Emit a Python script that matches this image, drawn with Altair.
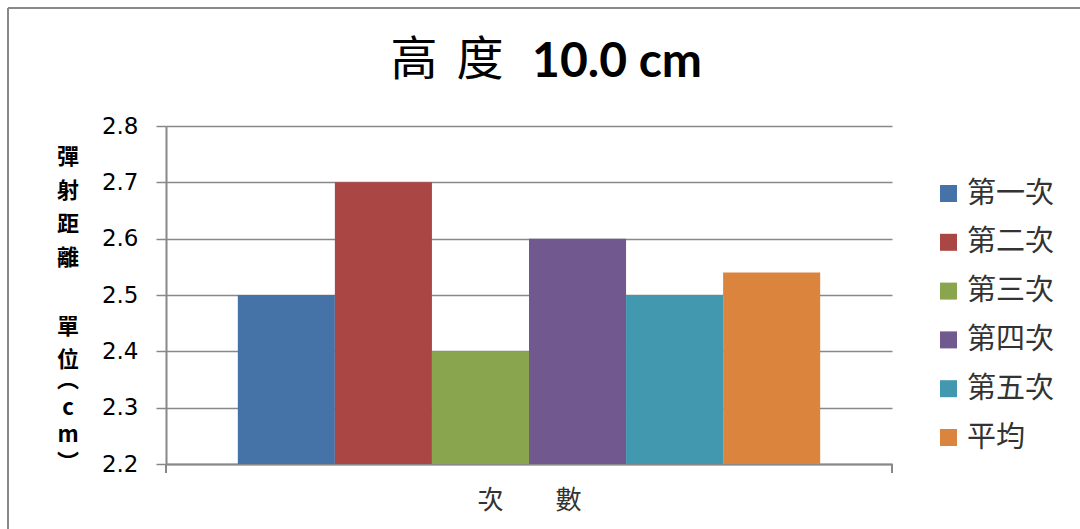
import altair as alt
import pandas as pd

series = ["第一次", "第二次", "第三次", "第四次", "第五次", "平均"]
values = [2.5, 2.7, 2.4, 2.6, 2.5, 2.54]
colors = ["#4572A7", "#AA4643", "#89A54E", "#71588F", "#4198AF", "#DB843D"]
y_ticks = [2.2, 2.3, 2.4, 2.5, 2.6, 2.7, 2.8]
title_c1 = "高"
title_c2 = "度"
title_num = "10.0 cm"
y_title_a = "彈\n射\n距\n離"
y_title_b = "單\n位"
y_title_c = "︵\nc\nm\n︶"
x_title = "次　　數"

df = pd.DataFrame({"series": series, "value": values})
one = pd.DataFrame({"k": [0]})

W, H = 726, 338
CJK = "Noto Sans CJK TC"

bars = alt.Chart(df).mark_bar().encode(
    x=alt.X("series:N", sort=series,
            scale=alt.Scale(paddingInner=0, paddingOuter=0.74, align=0.5),
            axis=alt.Axis(labels=False, ticks=False, title=x_title,
                          titleFont=CJK, titleFontSize=26,
                          titleFontWeight="normal", titleColor="#333333",
                          titlePadding=23, domainColor="#888888", domainWidth=2)),
    y=alt.Y("value:Q",
            scale=alt.Scale(domain=[2.2, 2.8], zero=False, nice=False),
            axis=alt.Axis(values=y_ticks, format=".1f", title=None,
                          labelFont="DejaVu Sans", labelFontSize=23, labelColor="#000000",
                          labelPadding=18, tickSize=10, tickColor="#888888", tickWidth=1.5,
                          domainColor="#888888", domainWidth=2,
                          gridColor="#888888", gridWidth=1.5)),
    y2=alt.datum(2.2),
    color=alt.Color("series:N", sort=series,
                    scale=alt.Scale(domain=series, range=colors),
                    legend=alt.Legend(title=None, orient="none", legendX=768, legendY=53,
                                      symbolType="square", symbolSize=289,
                                      symbolStrokeWidth=0, symbolOpacity=1,
                                      labelFont=CJK, labelFontSize=29,
                                      labelColor="#333333", labelOffset=4,
                                      rowPadding=18.8)),
)

def txt(text, x, y, font, size, weight="normal", align="center", lh=None):
    kw = dict(font=font, fontSize=size, fontWeight=weight, align=align,
              baseline="middle", color="#000000")
    if lh is not None:
        kw.update(lineBreak="\n", lineHeight=lh)
    return alt.Chart(one).mark_text(**kw).encode(
        x=alt.value(x), y=alt.value(y), text=alt.value(text))

t1 = txt(title_c1, 248, -65, CJK, 47)
t2 = txt(title_c2, 314, -65, CJK, 47)
t3 = txt(title_num, 536, -63, "Lato", 48, weight="bold", align="right")

ya = txt(y_title_a, -98, 31, CJK, 22, weight="bold", lh=33.7)
yb = txt(y_title_b, -98, 201, CJK, 22, weight="bold", lh=33)
yc = txt(y_title_c, -98, 254, CJK, 22, weight="bold", lh=27.7)

border_l = alt.Chart(one).mark_rule(color="#888888", strokeWidth=2).encode(
    x=alt.value(-158), y=alt.value(-118), y2=alt.value(410))
border_t = alt.Chart(one).mark_rule(color="#888888", strokeWidth=2).encode(
    x=alt.value(-158), x2=alt.value(930), y=alt.value(-118))
tick_l = alt.Chart(one).mark_rule(color="#888888", strokeWidth=2).encode(
    x=alt.value(0), y=alt.value(H), y2=alt.value(H + 9))
tick_r = alt.Chart(one).mark_rule(color="#888888", strokeWidth=2).encode(
    x=alt.value(W), y=alt.value(H), y2=alt.value(H + 9))

chart = alt.layer(bars, t1, t2, t3, ya, yb, yc, border_l, border_t, tick_l, tick_r).properties(
    width=W, height=H,
    autosize=alt.AutoSizeParams(type="none"),
    padding={"left": 166, "top": 126, "right": 188, "bottom": 65},
    background="white",
).configure_view(stroke=None)

chart.save("out.html", embed_options={"renderer": "svg", "actions": False})
